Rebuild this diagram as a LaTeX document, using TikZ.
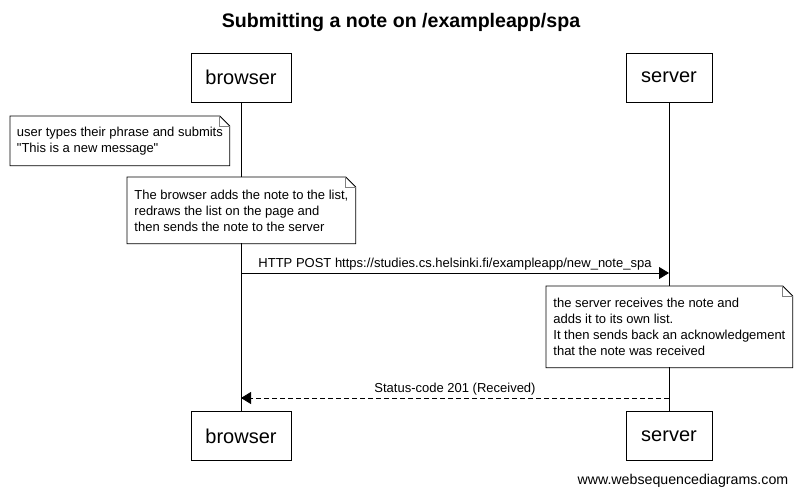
\documentclass[tikz,border=0pt]{standalone}
\usepackage{fontspec}
\setmainfont{Liberation Sans}
\usetikzlibrary{positioning,arrows.meta,calc}
\tikzset{
    seqdiag/.style={
        x=1pt, y=-1pt,
        line width=0.8pt,
        font=\fontsize{13}{16}\selectfont,
        % Stile per i partecipanti (rettangolo)
        actor/.style={draw, rectangle, align=center,
                      minimum height=49pt, inner sep=0pt,
                      font=\fontsize{20}{24}\selectfont},
        % Stile per le note (angolo piegato)
        notebox/.style={fill=white, align=left, anchor=north west,
                        inner sep=0pt},
        lifeline/.style={draw},
        msg/.style={-{Triangle[length=10pt,width=12pt]}},
        reply/.style={msg, dash pattern=on 5pt off 3pt}
    }
}
\newcommand{\foldnote}[1]{%
    \draw (#1.south west) -- (#1.north west) -- ([xshift=-10pt]#1.north east)
        -- ([yshift=-10pt]#1.north east) -- (#1.south east) -- cycle;
    \draw[gray] ([xshift=-10pt]#1.north east) |- ([yshift=-10pt]#1.north east);
}

\begin{document}
\begin{tikzpicture}[seqdiag]
    \useasboundingbox (0,0) rectangle (801,495);
    \node[font=\fontsize{19.6}{24}\selectfont\bfseries] (title) at (401,22) {Submitting a note on /exampleapp/spa};

    \node[actor, minimum width=100pt] (browsertop) at (241,77.5) {browser};
    \node[actor, minimum width=86pt] (servertop) at (669,77.5) {server};
    \node[actor, minimum width=100pt] (browserbot) at (241,436) {browser};
    \node[actor, minimum width=86pt] (serverbot) at (669,436) {server};
    \draw[lifeline] (browsertop) -- (browserbot);
    \draw[lifeline] (servertop) -- (serverbot);

    \node[notebox, minimum width=219pt, minimum height=49pt] (typing) at (10,116)
        {user types their phrase and submits\\\textquotedbl This is a new message\textquotedbl};
    \foldnote{typing}
    \node[notebox, minimum width=228pt, minimum height=66pt] (redraw) at (127,177)
        {The browser adds the note to the list,\\redraws the list on the page and\\then sends the note to the server};
    \foldnote{redraw}

    \coordinate (postfrom) at (241,273);
    \coordinate (postto) at (669,273);
    \draw[msg] (postfrom) -- (postto)
        node[midway, above, inner sep=2pt] {HTTP POST https://studies.cs.helsinki.fi/exampleapp/new\_note\_spa};

    \node[notebox, minimum width=246pt, minimum height=81pt] (receive) at (546,286)
        {the server receives the note and\\adds it to its own list.\\It then sends back an acknowledgement\\that the note was received};
    \foldnote{receive}

    \coordinate (ackfrom) at (669,398);
    \coordinate (ackto) at (241,398);
    \draw[reply] (ackfrom) -- (ackto)
        node[midway, above, inner sep=2pt] {Status-code 201 (Received)};

    \node[anchor=base east, font=\fontsize{14.2}{17}\selectfont] (credit) at (792,484) {www.websequencediagrams.com};
\end{tikzpicture}
\end{document}
